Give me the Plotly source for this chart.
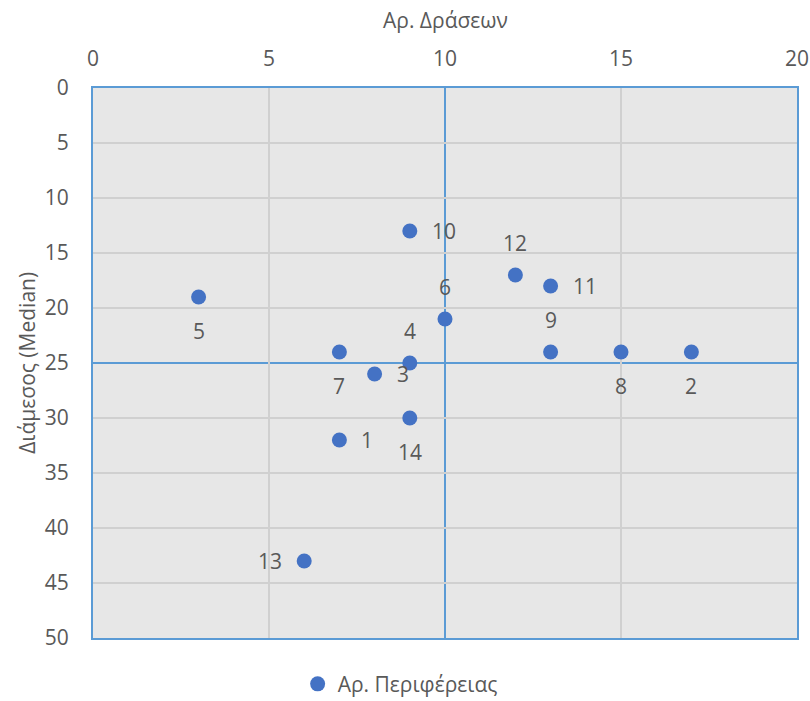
import plotly.graph_objects as go

# Data
actions = [7, 17, 8, 9, 3, 10, 7, 15, 13, 9, 13, 12, 6, 9]
median = [32, 24, 26, 25, 19, 21, 24, 24, 24, 13, 18, 17, 43, 30]
region_ids = ["1", "2", "3", "4", "5", "6", "7", "8", "9", "10", "11", "12", "13", "14"]
label_pos = ["right", "below", "right", "above", "below", "above", "below", "below",
             "above", "right", "right", "above", "left", "below"]
x_ticks = [0, 5, 10, 15, 20]
y_ticks = [0, 5, 10, 15, 20, 25, 30, 35, 40, 45, 50]
x_cross = 10
y_cross = 25

FONT = "Open Sans, Noto Sans, sans-serif"
GREY = "#595959"
FS = 21

fig = go.Figure()
fig.add_trace(go.Scatter(
    x=actions, y=median, mode="markers", name="Αρ. Περιφέρειας",
    marker=dict(size=15, color="#4472C4"),
    hoverinfo="skip",
))

annotations = []
for xv, yv, t, p in zip(actions, median, region_ids, label_pos):
    a = dict(x=xv, y=yv, text=t, showarrow=False, xref="x", yref="y",
             font=dict(family=FONT, size=FS, color=GREY))
    if p == "right":
        a.update(xanchor="left", yanchor="middle", xshift=20)
    elif p == "left":
        a.update(xanchor="right", yanchor="middle", xshift=-20)
    elif p == "above":
        a.update(xanchor="center", yanchor="middle", yshift=32)
    else:
        a.update(xanchor="center", yanchor="middle", yshift=-34)
    annotations.append(a)

# axis titles
annotations.append(dict(text="Αρ. Δράσεων", xref="paper", yref="paper", x=0.5, y=1.124,
                        xanchor="center", yanchor="middle", showarrow=False,
                        font=dict(family=FONT, size=FS, color=GREY)))
annotations.append(dict(text="Διάμεσος (Median)", xref="paper", yref="paper", x=-0.094, y=0.5,
                        xanchor="center", yanchor="middle", showarrow=False, textangle=-90,
                        font=dict(family=FONT, size=FS, color=GREY)))

fig.update_layout(
    width=810, height=701,
    margin=dict(l=93, r=13, t=88, b=63),
    paper_bgcolor="white",
    plot_bgcolor="#E7E7E7",
    font=dict(family=FONT, size=FS, color=GREY),
    showlegend=True,
    legend=dict(orientation="h", x=0.494, xanchor="center", xref="container",
                y=0.024, yanchor="middle", yref="container",
                font=dict(family=FONT, size=FS, color=GREY), itemwidth=30),
    annotations=annotations,
    shapes=[
        dict(type="line", xref="x", yref="paper", x0=x_cross, x1=x_cross, y0=0, y1=1,
             line=dict(color="#5B9BD5", width=2), layer="below"),
        dict(type="line", xref="paper", yref="y", x0=0, x1=1, y0=y_cross, y1=y_cross,
             line=dict(color="#5B9BD5", width=2), layer="below"),
    ],
)
fig.update_xaxes(
    range=[0, 20], side="top", tickvals=x_ticks, automargin=False,
    showgrid=False,
    minor=dict(tickvals=[v for v in x_ticks if v != x_cross], showgrid=True,
               gridcolor="#D0D0D0", gridwidth=2, ticks=""),
    zeroline=False, showline=True, linecolor="#5B9BD5", linewidth=2, mirror=True,
    ticks="", ticklabelstandoff=12,
    tickfont=dict(family=FONT, size=FS, color=GREY),
)
fig.update_yaxes(
    range=[50, 0], tickvals=y_ticks, automargin=False,
    showgrid=False,
    minor=dict(tickvals=[v for v in y_ticks if v != y_cross], showgrid=True,
               gridcolor="#D0D0D0", gridwidth=2, ticks=""),
    zeroline=False, showline=True, linecolor="#5B9BD5", linewidth=2, mirror=True,
    ticks="", ticklabelstandoff=18,
    tickfont=dict(family=FONT, size=FS, color=GREY),
)

fig.write_html("out.html", config={"displayModeBar": False},
               post_script="document.body.style.margin='0';")
